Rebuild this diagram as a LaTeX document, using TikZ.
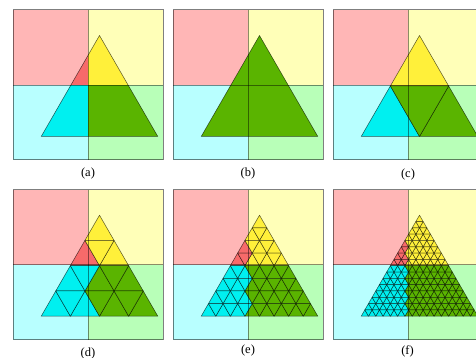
\documentclass[tikz,border=0pt]{standalone}
\usepackage{fontspec}
\setmainfont{Liberation Serif}
\definecolor{qred}{HTML}{FFB6B6}
\definecolor{qyel}{HTML}{FFFFB8}
\definecolor{qcya}{HTML}{B8FFFF}
\definecolor{qgrn}{HTML}{B8FFB8}
\definecolor{tred}{HTML}{F76A6A}
\definecolor{tyel}{HTML}{FFF03A}
\definecolor{tcya}{HTML}{00F0F0}
\definecolor{tgrn}{HTML}{5AB400}
\tikzset{
  frame/.style={draw=black, draw opacity=0.5, line width=1pt},
  divider/.style={draw=black, draw opacity=0.45, line width=0.9pt},
  mesh/.style={draw=black, draw opacity=0.65, line width=0.5pt, line join=round},
  caption/.style={font=\fontsize{12.5}{14}\selectfont, inner sep=0pt}
}
\newcommand\quadfill[2]{%
  \fill[qred] (#1-75,#2-75) rectangle (#1,#2);
  \fill[qyel] (#1,#2-75) rectangle (#1+75,#2);
  \fill[qcya] (#1-75,#2) rectangle (#1,#2+75);
  \fill[qgrn] (#1,#2) rectangle (#1+75,#2+75);
}
\newcommand\quadlines[2]{%
  \draw[divider] (#1,#2-75) -- (#1,#2+75);
  \draw[divider] (#1-75,#2) -- (#1+75,#2);
  \draw[frame] (#1-75,#2-75) rectangle (#1+75,#2+75);
}
\newcommand\pickcol{%
  \ifdim\gx pt<0pt
    \ifdim\gy pt<0pt \def\tcol{tred}\else\def\tcol{tcya}\fi
  \else
    \ifdim\gy pt<0pt \def\tcol{tyel}\else\def\tcol{tgrn}\fi
  \fi}
\newcommand\meshpanel[3]{%
  \pgfmathsetmacro\ms{116.6/#3}%
  \pgfmathsetmacro\mh{101/#3}%
  \pgfmathtruncatemacro\mlast{#3-1}%
  \foreach \k in {0,...,\mlast}{
    \foreach \i in {0,...,\k}{
      \pgfmathsetmacro\tx{11.5-\k*\ms/2+\i*\ms}
      \pgfmathsetmacro\ty{-49.5+\k*\mh}
      \pgfmathsetmacro\gx{\tx}
      \pgfmathsetmacro\gy{\ty+2*\mh/3}
      \pickcol
      \filldraw[fill=\tcol,mesh] (#1+\tx,#2+\ty) -- ++(-\ms/2,\mh) -- ++(\ms,0) -- cycle;
    }
    \ifnum\k>0
      \foreach \i in {1,...,\k}{
        \pgfmathsetmacro\tx{11.5-\k*\ms/2+\i*\ms-\ms}
        \pgfmathsetmacro\ty{-49.5+\k*\mh}
        \pgfmathsetmacro\gx{\tx+\ms/2}
        \pgfmathsetmacro\gy{\ty+\mh/3}
        \pickcol
        \filldraw[fill=\tcol,mesh] (#1+\tx,#2+\ty) -- ++(\ms,0) -- ++(-\ms/2,\mh) -- cycle;
      }
    \fi
  }
}
\begin{document}
\begin{tikzpicture}[x=1pt,y=-1pt]
\useasboundingbox (0,0) rectangle (476,358);
\clip (0,0) rectangle (476,358);
% (a)
\quadfill{88}{85}
\begin{scope}
  \clip (88+11.5,85-49.5) -- (88+11.5-58.3,85+51.5) -- (88+11.5+58.3,85+51.5) -- cycle;
  \fill[tred] (88-75,85-75) rectangle (88,85);
  \fill[tyel] (88,85-75) rectangle (88+75,85);
  \fill[tcya] (88-75,85) rectangle (88,85+75);
  \fill[tgrn] (88,85) rectangle (88+75,85+75);
\end{scope}
\draw[mesh] (88+11.5,85-49.5) -- (88+11.5-58.3,85+51.5) -- (88+11.5+58.3,85+51.5) -- cycle;
\quadlines{88}{85}
% (b)
\quadfill{248}{85}
\meshpanel{248}{85}{1}
\quadlines{248}{85}
% (c)
\quadfill{408}{85}
\meshpanel{408}{85}{2}
\quadlines{408}{85}
% (d)
\quadfill{88}{264.7}
\meshpanel{88}{264.7}{4}
\quadlines{88}{264.7}
% (e)
\quadfill{248}{264.7}
\meshpanel{248}{264.7}{8}
\quadlines{248}{264.7}
% (f)
\quadfill{408}{264.7}
\meshpanel{408}{264.7}{16}
\quadlines{408}{264.7}
% captions
\node[caption] (la) at (88,173) {(a)};
\node[caption] (lb) at (248,173) {(b)};
\node[caption] (lc) at (408,174) {(c)};
\node[caption] (ld) at (88,353.5) {(d)};
\node[caption] (le) at (248,350.5) {(e)};
\node[caption] (lf) at (407.5,351) {(f)};
\end{tikzpicture}
\end{document}
